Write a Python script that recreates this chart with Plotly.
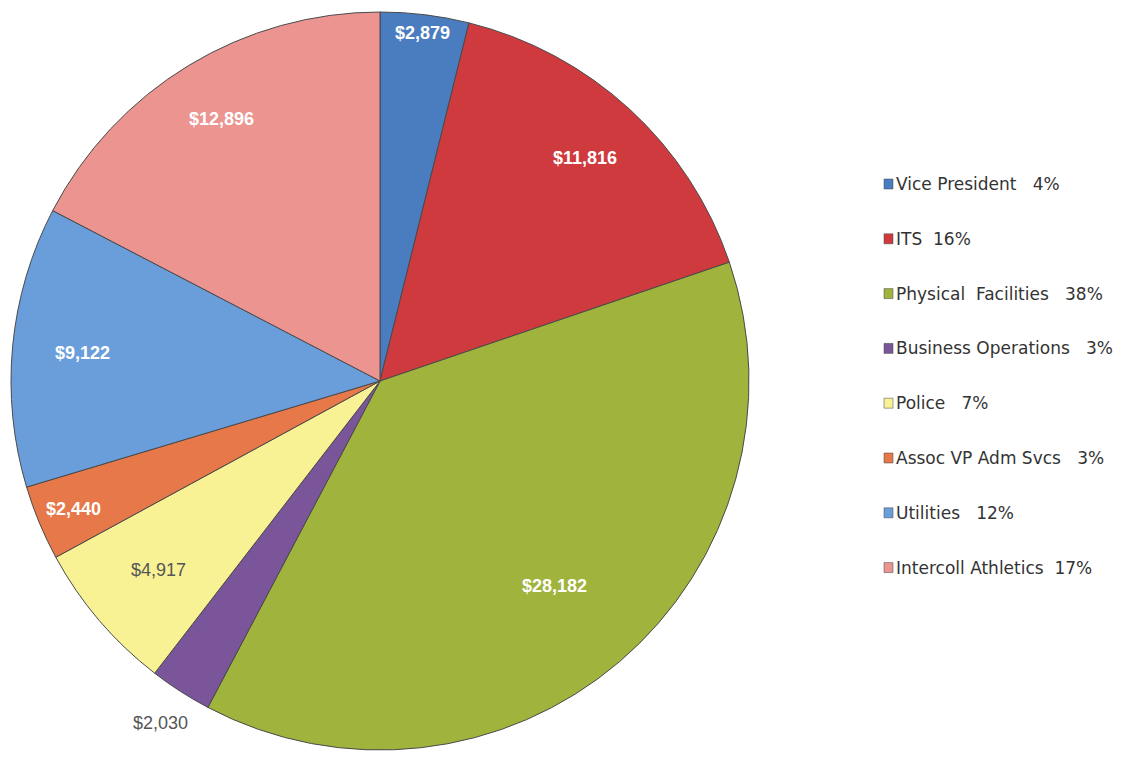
import math
import plotly.graph_objects as go

categories = ["Vice President", "ITS", "Physical  Facilities", "Business Operations",
              "Police", "Assoc VP Adm Svcs", "Utilities", "Intercoll Athletics"]
values = [2879, 11816, 28182, 2030, 4917, 2440, 9122, 12896]
colors = ["#4a7dbf", "#cf3a3e", "#a0b33c", "#7a559a", "#f8f295", "#e6784a", "#6a9edb", "#eb9490"]
label_colors = ["white", "white", "white", "#555555", "#555555", "white", "white", "white"]
label_bold = [True, True, True, False, False, True, True, True]
label_radius = [0.95, 0.82, 0.73, 1.10, 0.79, 0.90, 0.81, 0.83]
legend_sep = ["   ", "  ", "   ", "   ", "   ", "   ", "   ", "  "]

W, H = 1123, 759
OFF = 8  # default page body margin shifts the figure by 8px
cx, cy, r = 380 - OFF, 381 - OFF, 369

fig = go.Figure(go.Pie(
    labels=categories, values=values, sort=False, direction="clockwise", rotation=0,
    marker=dict(colors=colors, line=dict(color="#4a4a4a", width=1)),
    textinfo="none", showlegend=False, hoverinfo="label+value+percent",
    domain=dict(x=[(cx - r) / W, (cx + r) / W], y=[(H - cy - r) / H, (H - cy + r) / H]),
))

total = sum(values)
cum = 0
for v, tc, b, fr in zip(values, label_colors, label_bold, label_radius):
    ang = 2 * math.pi * (cum + v / 2) / total
    cum += v
    px = cx + fr * r * math.sin(ang)
    py = cy - fr * r * math.cos(ang)
    txt = f"${v:,}"
    if b:
        txt = f"<b>{txt}</b>"
    fig.add_annotation(x=px / W, y=(H - py) / H, xref="paper", yref="paper",
                       xanchor="center", yanchor="middle",
                       showarrow=False, text=txt,
                       font=dict(family="Liberation Sans", size=18, color=tc))

y0, dy = 184 - OFF, 54.8
lx = 884 - OFF
for i, (c, v, col, sep) in enumerate(zip(categories, values, colors, legend_sep)):
    pct = round(100 * v / total)
    yc = y0 + i * dy
    fig.add_shape(type="rect", xref="paper", yref="paper",
                  x0=lx / W, x1=(lx + 9) / W, y0=(H - yc - 5) / H, y1=(H - yc + 5) / H,
                  fillcolor=col, line=dict(color="#444444", width=0.5))
    fig.add_annotation(
        x=(lx + 10) / W, y=(H - yc) / H, xref="paper", yref="paper",
        xanchor="left", yanchor="middle", showarrow=False,
        text=f"{c}{sep}{pct}%",
        font=dict(family="DejaVu Sans", size=17, color="#333333"),
    )

fig.update_layout(width=W, height=H, margin=dict(l=0, r=0, t=0, b=0),
                  paper_bgcolor="white", plot_bgcolor="white")
fig.write_html("out.html")
